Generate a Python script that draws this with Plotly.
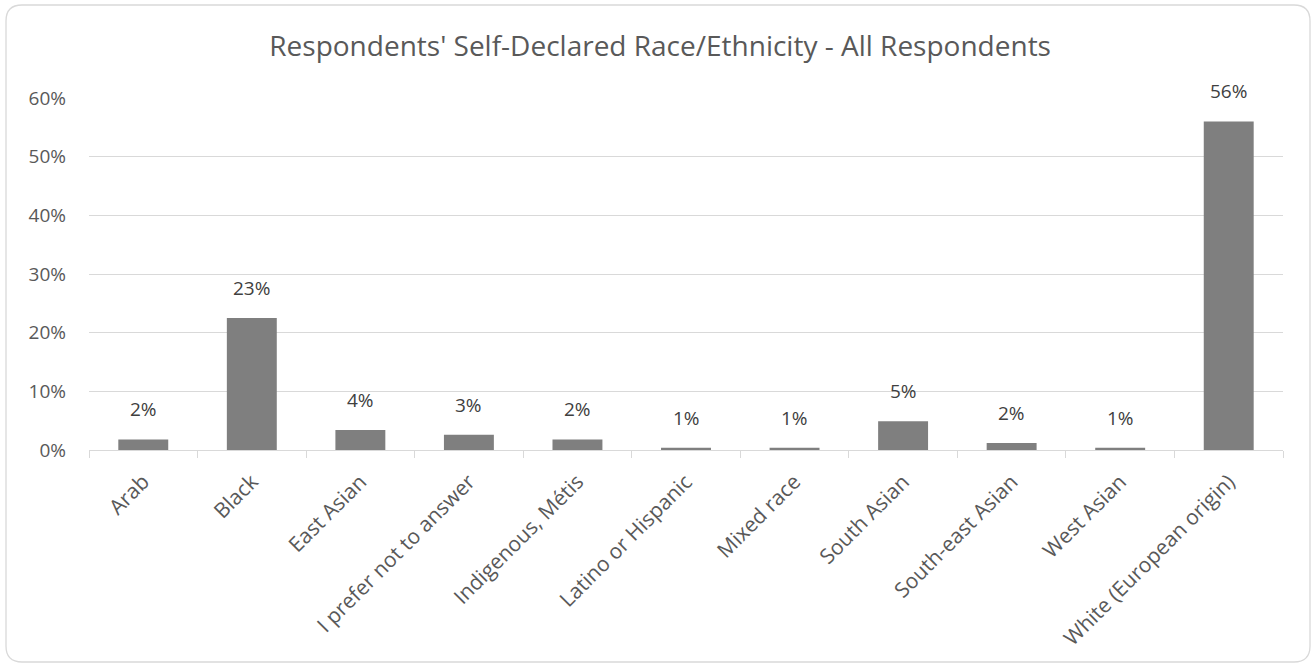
import plotly.graph_objects as go

categories = ["Arab", "Black", "East Asian", "I prefer not to answer", "Indigenous, Métis",
              "Latino or Hispanic", "Mixed race", "South Asian", "South-east Asian",
              "West Asian", "White (European origin)"]
values = [1.8, 22.5, 3.4, 2.6, 1.8, 0.4, 0.4, 4.9, 1.2, 0.4, 56.0]
labels = ["2%", "23%", "4%", "3%", "2%", "1%", "1%", "5%", "2%", "1%", "56%"]
y_ticks = [0, 10, 20, 30, 40, 50, 60]
y_tick_labels = ["0%", "10%", "20%", "30%", "40%", "50%", "60%"]

FONT = "Open Sans"
TXT = "#595959"
GRID = "#d9d9d9"

fig = go.Figure()
fig.add_trace(go.Bar(x=categories, y=values, marker=dict(color="#7f7f7f", line=dict(width=0)),
                     width=0.46, hoverinfo="skip"))

for c, v, t in zip(categories, values, labels):
    fig.add_annotation(x=c, y=v, text=t, showarrow=False, yanchor="bottom", yshift=15,
                       font=dict(family=FONT, size=19, color="#404040"))

L, R, T, B = 89, 32, 98, 217
W, H = 1315, 667
pw, ph = W - L - R, H - T - B

def px(x):
    return (x - L) / pw

def py(y):
    return (H - B - y) / ph

x0, x1, y0, y1 = 6, 1310, 5, 662
r = 16
path = (f"M {px(x0 + r)},{py(y0)} L {px(x1 - r)},{py(y0)} Q {px(x1)},{py(y0)} {px(x1)},{py(y0 + r)} "
        f"L {px(x1)},{py(y1 - r)} Q {px(x1)},{py(y1)} {px(x1 - r)},{py(y1)} "
        f"L {px(x0 + r)},{py(y1)} Q {px(x0)},{py(y1)} {px(x0)},{py(y1 - r)} "
        f"L {px(x0)},{py(y0 + r)} Q {px(x0)},{py(y0)} {px(x0 + r)},{py(y0)} Z")
fig.add_shape(type="path", path=path, xref="paper", yref="paper",
              line=dict(color=GRID, width=1.3), layer="below")

fig.update_layout(
    width=W, height=H,
    margin=dict(l=L, r=R, t=T, b=B),
    paper_bgcolor="white", plot_bgcolor="white",
    showlegend=False,
    title=dict(text="Respondents' Self-Declared Race/Ethnicity - All Respondents",
               x=0.502, xref="container", xanchor="center", y=1 - 46 / H, yanchor="middle",
               font=dict(family=FONT, size=28, color=TXT)),
    xaxis=dict(type="category", tickangle=-45, tickfont=dict(family=FONT, size=21, color=TXT),
               showline=True, linecolor=GRID, linewidth=1.3, ticks="outside", tickson="boundaries",
               ticklen=7, tickcolor=GRID, showgrid=False, automargin=False, ticklabelstandoff=10),
    yaxis=dict(range=[0, 60], tickmode="array", tickvals=y_ticks, ticktext=y_tick_labels,
               tickfont=dict(family=FONT, size=19, color=TXT), automargin=False,
               showgrid=True, gridcolor=GRID, gridwidth=1.3, zeroline=False,
               showline=False, ticklabelstandoff=22),
)

fig.write_html("out.html")
